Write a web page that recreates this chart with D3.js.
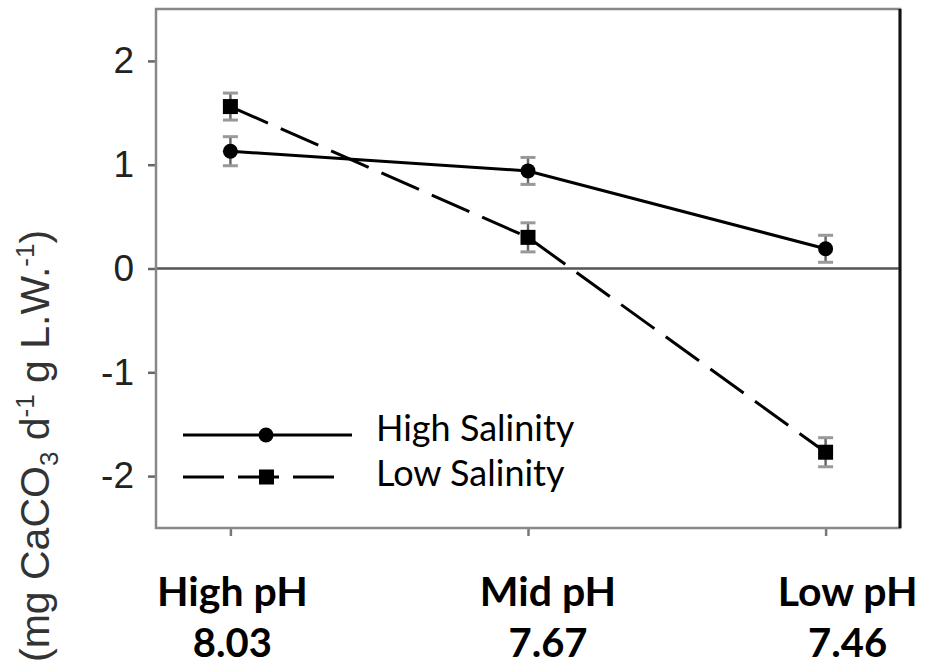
<!DOCTYPE html>
<html>
<head>
<meta charset="utf-8">
<script src="https://cdn.jsdelivr.net/npm/d3@7"></script>
<style>
  html, body { margin: 0; padding: 0; background: #fff; }
  svg { display: block; }
</style>
</head>
<body>
<svg id="chart" width="936" height="666"></svg>
<script>
// pH treatments along the x axis
const categories = ["High pH", "Mid pH", "Low pH"];
const phValues = ["8.03", "7.67", "7.46"];

// Net calcification means and standard errors
const highSalinity = [1.13, 0.94, 0.19];
const highSalinityErr = [0.14, 0.13, 0.13];
const lowSalinity = [1.56, 0.30, -1.77];
const lowSalinityErr = [0.13, 0.14, 0.14];

const yTicks = [-2, -1, 0, 1, 2];
const seriesNames = ["High Salinity", "Low Salinity"];

const svg = d3.select("#chart");
const frame = { left: 156, right: 900, top: 9, bottom: 528 };

const x = d3.scaleLinear().domain([0.75, 3.25]).range([frame.left, frame.right]);
const y = d3.scaleLinear().domain([-2.5, 2.5]).range([frame.bottom, frame.top]);

// zero reference line
svg.append("line")
  .attr("x1", frame.left).attr("x2", frame.right)
  .attr("y1", y(0)).attr("y2", y(0))
  .attr("stroke", "#555").attr("stroke-width", 2.5);

// y axis
const yAxis = svg.append("g")
  .attr("transform", `translate(${frame.left},0)`)
  .call(d3.axisLeft(y).tickValues(yTicks).tickSize(8).tickPadding(14)
        .tickFormat(d => d < 0 ? "-" + Math.abs(d) : d));
yAxis.select(".domain").remove();
yAxis.selectAll("line").attr("stroke", "#666").attr("stroke-width", 2.5);
yAxis.selectAll("text")
  .attr("font-family", "'Liberation Sans', Arial, sans-serif")
  .attr("font-size", 37).attr("fill", "#222");

// x axis ticks
const xAxis = svg.append("g")
  .attr("transform", `translate(0,${frame.bottom})`)
  .call(d3.axisBottom(x).tickValues([1, 2, 3]).tickSize(8).tickFormat(""));
xAxis.select(".domain").remove();
xAxis.selectAll("line").attr("stroke", "#777").attr("stroke-width", 2.5);

// plot frame
svg.append("rect")
  .attr("x", frame.left).attr("y", frame.top)
  .attr("width", frame.right - frame.left).attr("height", frame.bottom - frame.top)
  .attr("fill", "none").attr("stroke", "#888").attr("stroke-width", 2.5);
svg.append("line")
  .attr("x1", frame.right).attr("x2", frame.right)
  .attr("y1", frame.top).attr("y2", frame.bottom)
  .attr("stroke", "#111").attr("stroke-width", 3);

const line = d3.line().x((d, i) => x(i + 1)).y(d => y(d));

function drawSeries(values, errs, dashed, square) {
  const g = svg.append("g");
  // error bars
  values.forEach((v, i) => {
    const cx = x(i + 1);
    const lo = y(v - errs[i]), hi = y(v + errs[i]);
    g.append("line").attr("x1", cx).attr("x2", cx).attr("y1", lo).attr("y2", hi)
      .attr("stroke", "#666").attr("stroke-width", 2.5);
    [lo, hi].forEach(yy => g.append("line")
      .attr("x1", cx - 7.5).attr("x2", cx + 7.5).attr("y1", yy).attr("y2", yy)
      .attr("stroke", "#999").attr("stroke-width", 3));
  });
  g.append("path").datum(values).attr("d", line)
    .attr("fill", "none").attr("stroke", "#000").attr("stroke-width", 3)
    .attr("stroke-dasharray", dashed ? "41,14" : null);
  values.forEach((v, i) => {
    if (square) {
      g.append("rect").attr("x", x(i + 1) - 7.5).attr("y", y(v) - 7.5)
        .attr("width", 15).attr("height", 15).attr("fill", "#000");
    } else {
      g.append("circle").attr("cx", x(i + 1)).attr("cy", y(v)).attr("r", 7.5).attr("fill", "#000");
    }
  });
}
drawSeries(highSalinity, highSalinityErr, false, false);
drawSeries(lowSalinity, lowSalinityErr, true, true);

// legend
const legend = svg.append("g");
const legendFont = "Lato, 'Open Sans', sans-serif";
[[0, false, false], [1, true, true]].forEach(([k, dashed, square]) => {
  const ly = 435 + k * 42;
  if (dashed) {
    legend.append("line").attr("x1", 183).attr("x2", 335).attr("y1", ly).attr("y2", ly)
      .attr("stroke", "#000").attr("stroke-width", 3).attr("stroke-dasharray", "41,14");
    legend.append("rect").attr("x", 259).attr("y", ly - 7.5).attr("width", 15).attr("height", 15).attr("fill", "#000");
  } else {
    legend.append("line").attr("x1", 183).attr("x2", 352).attr("y1", ly).attr("y2", ly)
      .attr("stroke", "#000").attr("stroke-width", 3);
    legend.append("circle").attr("cx", 266).attr("cy", ly).attr("r", 7.5).attr("fill", "#000");
  }
  legend.append("text").attr("x", 376).attr("y", ly + 6 + k * 3)
    .attr("font-family", legendFont).attr("font-size", 36).attr("fill", "#000")
    .text(seriesNames[k]);
});

// category labels
const labelShift = [2, 20, 22];
const labelFont = "Lato, 'Open Sans', sans-serif";
categories.forEach((c, i) => {
  const cx = x(i + 1) + labelShift[i];
  svg.append("text").attr("x", cx).attr("y", 606)
    .attr("text-anchor", "middle").attr("font-family", labelFont)
    .attr("font-weight", "bold").attr("font-size", 41).attr("fill", "#000")
    .text(c);
  svg.append("text").attr("x", cx).attr("y", 657)
    .attr("text-anchor", "middle").attr("font-family", labelFont)
    .attr("font-weight", "bold").attr("font-size", 40).attr("fill", "#000")
    .text(phValues[i]);
});

// y axis title
const title = svg.append("text")
  .attr("transform", "translate(49,662) rotate(-90)")
  .attr("text-anchor", "start")
  .attr("font-family", "'Liberation Sans', Arial, sans-serif")
  .attr("font-size", 41).attr("fill", "#333");
title.append("tspan").text("(mg CaCO");
title.append("tspan").attr("font-size", 26).attr("dy", 9).text("3");
title.append("tspan").attr("dy", -9).text(" d");
title.append("tspan").attr("font-size", 26).attr("dy", -15).text("-1");
title.append("tspan").attr("dy", 15).text(" g L.W.");
title.append("tspan").attr("font-size", 26).attr("dy", -15).text("-1");
title.append("tspan").attr("dy", 15).text(")");
</script>
</body>
</html>
